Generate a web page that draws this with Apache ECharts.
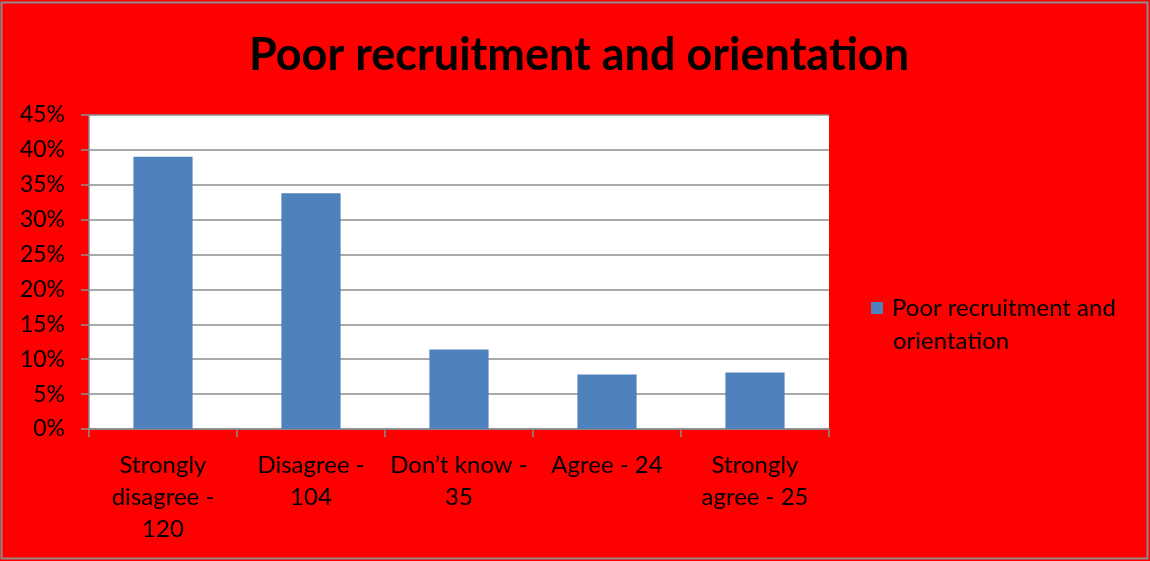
<!DOCTYPE html>
<html>
<head>
<meta charset="utf-8">
<script src="https://cdn.jsdelivr.net/npm/echarts@6/dist/echarts.min.js"></script>
<style>
  html, body { margin: 0; padding: 0; background: #fff; }
  #chart { width: 1150px; height: 561px; }
</style>
</head>
<body>
<div id="chart"></div>
<script>
// Survey responses: share of respondents per answer (percent)
const categories = [
  'Strongly\ndisagree -\n120',
  'Disagree -\n104',
  'Don\u2019t know -\n35',
  'Agree - 24',
  'Strongly\nagree - 25'
];
const seriesName = 'Poor recruitment and orientation';
const legendLines = ['Poor recruitment and', 'orientation'];
const shares = [39.0, 33.8, 11.4, 7.8, 8.1];
const yTicks = { min: 0, max: 45, interval: 5 };

const FONT = 'Lato, "Open Sans", sans-serif';
const chart = echarts.init(document.getElementById('chart'), null, { renderer: 'canvas' });

chart.setOption({
  backgroundColor: '#ff0000',
  animation: false,
  title: {
    text: 'Poor recruitment and orientation',
    left: 574,
    top: 28,
    textAlign: 'center',
    textStyle: { fontFamily: FONT, fontSize: 45, fontWeight: 'bold', color: '#000' }
  },
  graphic: [{
    type: 'rect',
    shape: { x: 1.5, y: 2.5, width: 1146, height: 556 },
    style: { fill: 'none', stroke: '#8c8c8c', lineWidth: 2 },
    silent: true
  }, {
    // white plot area
    type: 'rect',
    z: -1,
    shape: { x: 89, y: 115, width: 740, height: 314 },
    style: { fill: '#ffffff' },
    silent: true
  }, {
    // wrapped second line of the legend label
    type: 'text',
    left: 893,
    top: 329,
    style: { text: legendLines[1], font: '24px ' + FONT, fill: '#000' },
    silent: true
  }],
  legend: {
    left: 871,
    top: 296,
    padding: 0,
    orient: 'vertical',
    icon: 'rect',
    itemWidth: 12,
    itemHeight: 12,
    formatter: () => legendLines[0],
    textStyle: { fontFamily: FONT, fontSize: 24, color: '#000', padding: [0, 0, 0, 4] }
  },
  grid: { left: 89, top: 115, width: 740, height: 314, containLabel: false },
  xAxis: {
    type: 'category',
    data: categories,
    axisLine: { show: true, lineStyle: { color: '#8c8c8c', width: 1.5 } },
    axisTick: { show: true, alignWithLabel: false, length: 8, lineStyle: { color: '#8c8c8c', width: 1.5 } },
    axisLabel: {
      interval: 0,
      margin: 20,
      fontFamily: FONT, fontSize: 24, color: '#000', lineHeight: 32
    }
  },
  yAxis: {
    type: 'value',
    min: yTicks.min,
    max: yTicks.max,
    interval: yTicks.interval,
    axisLine: { show: true, lineStyle: { color: '#8c8c8c', width: 1.5 } },
    axisTick: { show: true, length: 8, lineStyle: { color: '#8c8c8c', width: 1.5 } },
    splitLine: { show: true, lineStyle: { color: '#8c8c8c', width: 1.5 } },
    axisLabel: {
      margin: 24,
      formatter: v => v + '%',
      fontFamily: FONT, fontSize: 23, color: '#000'
    }
  },
  series: [{
    name: seriesName,
    type: 'bar',
    data: shares,
    barWidth: '40%',
    itemStyle: { color: '#4f81bd' }
  }]
});
</script>
</body>
</html>
